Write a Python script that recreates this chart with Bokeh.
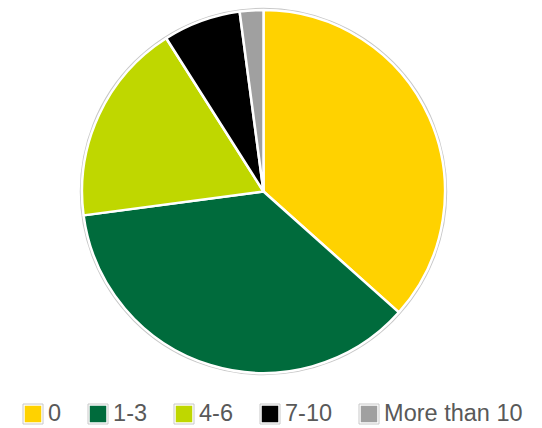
import numpy as np
from bokeh.plotting import figure
from bokeh.models import Range1d, Legend, LegendItem, ColumnDataSource
from bokeh.embed import file_html
from bokeh.resources import INLINE

# ---- data ----
categories = ["0", "1-3", "4-6", "7-10", "More than 10"]
shares = [36.6, 36.3, 18.1, 6.9, 2.1]
colors = ["#FFD200", "#006B3C", "#BFD700", "#000000", "#A0A0A0"]

# ---- layout ----
W, H = 540, 426
p = figure(width=W, height=H, x_range=Range1d(0, W), y_range=Range1d(0, H),
           output_backend="svg", toolbar_location=None, min_border=0)
p.axis.visible = False
p.grid.visible = False
p.outline_line_color = None
p.background_fill_color = "white"

frac = np.array(shares) / sum(shares)
cum = np.concatenate([[0], np.cumsum(frac)])
start = np.pi / 2 - cum[:-1] * 2 * np.pi
end = np.pi / 2 - cum[1:] * 2 * np.pi

cx, cy, r = 263, 235, 181.5
src = ColumnDataSource(dict(cat=categories, start=start, end=end, color=colors))

p.circle(x=cx, y=cy, radius=183, fill_color=None, line_color="#c8c8c8", line_width=1.5)
p.wedge(x=cx, y=cy, radius=r, start_angle="start", end_angle="end", direction="clock",
        fill_color="color", line_color="white", line_width=2.5, source=src)

items = []
for cat, col in zip(categories, colors):
    r1 = p.rect(x=[-500], y=[-500], width=1, height=1, fill_color=col,
                line_color="white", line_width=3.5)
    r2 = p.rect(x=[-500], y=[-500], width=1, height=1, fill_color=None,
                line_color="#c8c8c8", line_width=1)
    items.append(LegendItem(label=cat, renderers=[r1, r2]))

legend = Legend(items=items, orientation="horizontal", location=(20, -1),
                glyph_width=25, glyph_height=25, label_standoff=3, spacing=24,
                padding=0, margin=0, border_line_color=None, background_fill_alpha=0,
                label_text_font="Liberation Sans", label_text_font_size="23.5px",
                label_text_color="#595959", label_height=25, label_width=0)
p.add_layout(legend, "center")

open("out.html", "w").write(file_html(p, INLINE))
